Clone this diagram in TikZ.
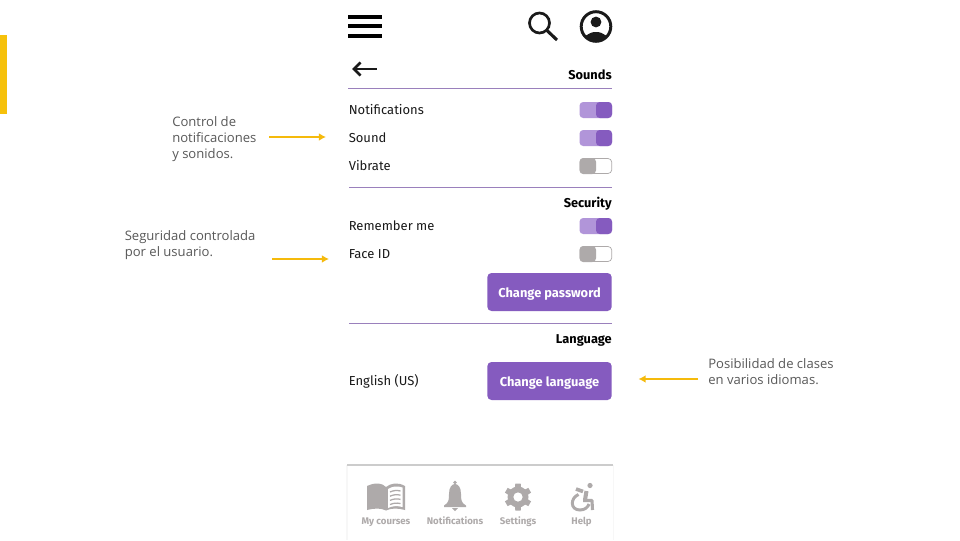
\documentclass[tikz,border=0pt]{standalone}
\usepackage{fontspec}
\setmainfont{Fira Sans}
\newfontfamily\notefont{Open Sans}
\usetikzlibrary{arrows.meta}
\definecolor{appPurple}{HTML}{855BBF}
\definecolor{appLilac}{HTML}{B195D9}
\definecolor{appGray}{HTML}{AEAAAA}
\definecolor{appLine}{HTML}{9A80BC}
\definecolor{appYellow}{HTML}{F5BA0C}
\definecolor{appDark}{HTML}{1A1A1A}
\definecolor{noteGray}{HTML}{595959}
\tikzset{
	rowlabel/.style={anchor=base west, inner sep=0, font=\fontsize{9.25}{11}\selectfont, text=appDark},
	sectionlabel/.style={anchor=base east, inner sep=0, font=\fontsize{9.1}{11}\selectfont\bfseries, text=black},
	notelabel/.style={anchor=north west, inner sep=0, align=left, font=\notefont\fontsize{9.3}{11.4}\selectfont, text=noteGray},
	tablabel/.style={anchor=base, inner sep=0, font=\fontsize{6.85}{8}\selectfont\bfseries, text=appGray},
	actionbutton/.style={fill=appPurple, draw=none, rounded corners=3pt, text=white, inner sep=0, minimum width=3cm+3.1pt, minimum height=0.95cm, text height=8.8pt, text depth=1pt, font=\fontsize{9.15}{11}\selectfont\bfseries},
	notearrow/.style={draw=appYellow, line width=1pt, -{Latex[length=5pt,width=5.4pt]}},
	divider/.style={draw=appLine, line width=0.7pt}
}
\newcommand{\toggleon}[1]{
	\fill[appLilac, rounded corners=2.6pt] (579.5, #1-8) rectangle (612, #1+8);
	\fill[appPurple, rounded corners=2.6pt] (596, #1-8) rectangle (612, #1+8);
}
\newcommand{\toggleoff}[1]{
	\draw[fill=white, draw=appGray, line width=0.5pt, rounded corners=2.6pt] (580, #1-7.5) rectangle (611.7, #1+7.5);
	\fill[appGray, rounded corners=2.6pt] (579.5, #1-8) rectangle (596, #1+8);
}
\begin{document}
\begin{tikzpicture}[x=0.025cm, y=-0.025cm]
	\useasboundingbox (0, 0) rectangle (960, 540);
	\fill[white] (0, 0) rectangle (960, 540);
	\fill[fill=appYellow!90!yellow] (0, 35) rectangle (7, 114);

	% top bar
	\fill[black] (348, 15) rectangle (382, 19);
	\fill[black] (348, 24) rectangle (382, 28);
	\fill[black] (348, 33.5) rectangle (382, 38);
	\draw[appDark, line width=1.9pt] (539.5, 23) circle (10);
	\draw[appDark, line width=2.2pt] (547, 30.5) -- (557, 40);
	\draw[appDark, line width=2.1pt] (596, 26.5) circle (14.8);
	\fill[appDark] (596, 22) circle (5.4);
	\begin{scope}
		\clip (596, 26.5) circle (14.8);
		\fill[appDark] (596, 43) ellipse (13.5 and 11);
	\end{scope}
	\draw[appDark, line width=1.9pt] (376.5, 69) -- (354, 69);
	\draw[appDark, line width=1.9pt] (360.5, 62.5) -- (354, 69) -- (360.5, 75.5);

	% sounds
	\node[sectionlabel] (soundsTitle) at (612, 79) {Sounds};
	\draw[divider] (348, 88.5) -- (612, 88.5);
	\node[rowlabel] (notifRow) at (348.5, 114.4) {Notifications};
	\node[rowlabel] (soundRow) at (348.5, 142.4) {Sound};
	\node[rowlabel] (vibrateRow) at (348.5, 170.4) {Vibrate};
	\toggleon{110}
	\toggleon{138}
	\toggleoff{166}
	\draw[divider] (349, 187) -- (612, 187);

	% security
	\node[sectionlabel] (securityTitle) at (612, 207) {Security};
	\node[rowlabel] (rememberRow) at (348.5, 230.4) {Remember me};
	\node[rowlabel] (faceRow) at (348.5, 258.4) {Face ID};
	\toggleon{226}
	\toggleoff{254}
	\node[actionbutton] (passwordBtn) at (549.5, 292) {Change password};
	\draw[divider] (349, 323.5) -- (612, 323.5);

	% language
	\node[sectionlabel] (languageTitle) at (612, 343.5) {Language};
	\node[rowlabel] (englishRow) at (348.5, 385.4) {English (US)};
	\node[actionbutton] (languageBtn) at (549.5, 381) {Change language};

	% notes
	\node[notelabel] (noteSounds) at (172, 116.5) {Control de\\notificaciones\\y sonidos.};
	\node[notelabel] (noteSecurity) at (124.5, 230.5) {Seguridad controlada\\por el usuario.};
	\node[notelabel] (noteLanguage) at (708, 358.5) {Posibilidad de clases\\en varios idiomas.};
	\coordinate (arrowA) at (269, 137);
	\coordinate (arrowAend) at (326, 137);
	\coordinate (arrowB) at (272, 259);
	\coordinate (arrowBend) at (329, 259);
	\coordinate (arrowC) at (698, 379);
	\coordinate (arrowCend) at (638.5, 379);
	\draw[notearrow] (arrowA) -- (arrowAend);
	\draw[notearrow] (arrowB) -- (arrowBend);
	\draw[notearrow] (arrowC) -- (arrowCend);

	% tab bar
	\fill[black!3] (346, 465) rectangle (614, 540);
	\fill[white] (347.5, 466) rectangle (612.5, 540);
	\fill[black!20] (347, 464) rectangle (613, 466);

	% my courses
	\fill[appGray] (367, 486) .. controls (376, 482) and (382, 483) .. (386, 487) .. controls (391, 483) and (398, 482) .. (405, 486) -- (405, 510) .. controls (398, 508) and (391, 508) .. (386, 510.5) .. controls (381, 508) and (375, 508) .. (367, 510) -- cycle;
	\fill[white] (388, 489) .. controls (392, 486.5) and (397, 485.5) .. (402.5, 487.5) -- (402.5, 507) .. controls (397, 505.5) and (392, 506) .. (388, 508) -- cycle;
	\foreach \i in {0,1,2,3}
		\draw[appGray, line width=0.9pt] (390, 492+\i*4.2) .. controls (393, 490.5+\i*4.2) and (397, 490+\i*4.2) .. (400.5, 491+\i*4.2);

	% bell
	\fill[appGray] (455, 482.5) circle (1.8);
	\fill[appGray] (444, 505.5) .. controls (449, 503) and (449, 499) .. (449, 494) .. controls (449, 487) and (452, 484) .. (455, 484) .. controls (458, 484) and (461, 487) .. (461, 494) .. controls (461, 499) and (461, 503) .. (466, 505.5) -- (466, 507) -- (444, 507) -- cycle;
	\fill[appGray] (452, 508) -- (458, 508) -- (455, 511) -- cycle;

	% gear
	\foreach \a in {0,60,...,300}
		\fill[appGray, rotate around={\a:(518, 497)}] (514.5, 497) -- (515.3, 483.5) -- (520.7, 483.5) -- (521.5, 497) -- cycle;
	\fill[appGray] (518, 497) circle (10.5);
	\fill[white] (518, 497) circle (4.6);

	% help
	\fill[appGray] (590, 485.5) circle (2.6);
	\draw[appGray, line width=2.1pt] (578.5, 494.5) .. controls (570, 498) and (570, 510) .. (580, 510) .. controls (585, 510) and (588, 507) .. (589, 504);
	\draw[appGray, line width=2.6pt, line join=round] (576, 489) -- (583, 491.5);
	\draw[appGray, line width=2.9pt, line join=round] (586.5, 491) -- (585, 500);
	\draw[appGray, line width=2.2pt, line join=round] (583, 500.5) -- (592, 500.5) -- (592.5, 510);

	\node[tablabel] (tabCourses) at (386, 524) {My courses};
	\node[tablabel] (tabNotif) at (455, 524) {Notifications};
	\node[tablabel] (tabSettings) at (518, 524) {Settings};
	\node[tablabel] (tabHelp) at (581.5, 524) {Help};
\end{tikzpicture}
\end{document}
